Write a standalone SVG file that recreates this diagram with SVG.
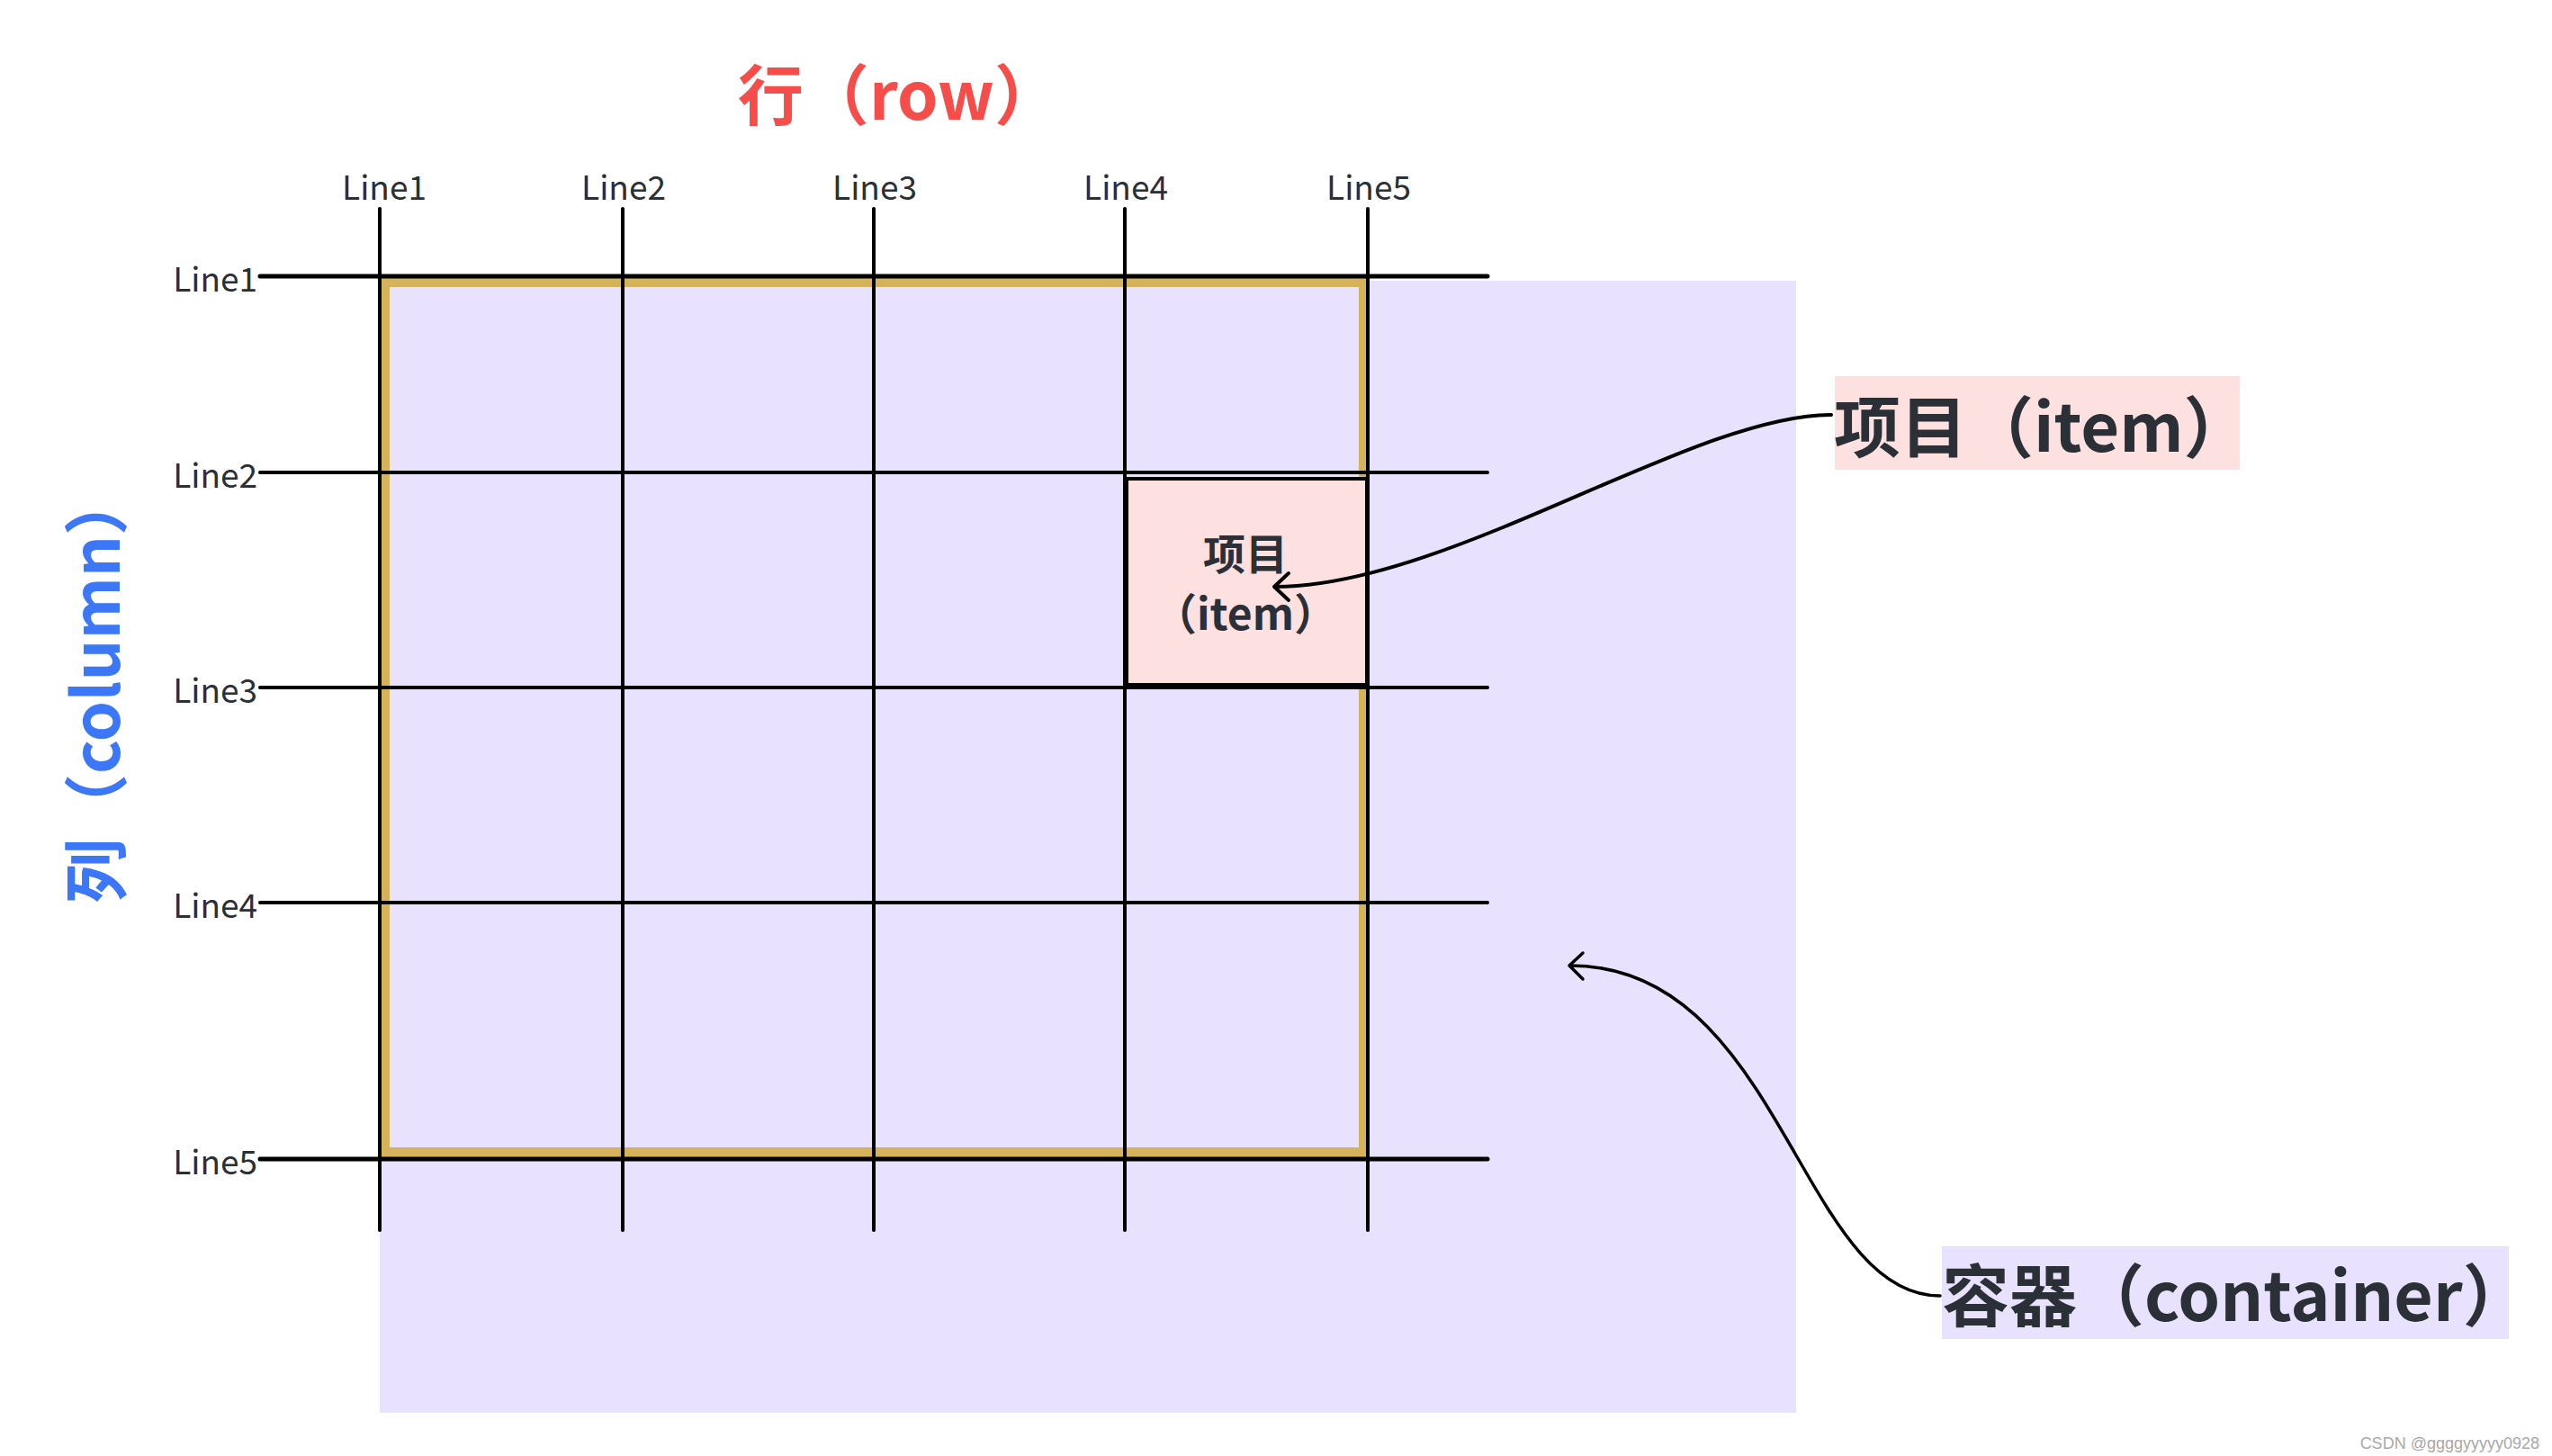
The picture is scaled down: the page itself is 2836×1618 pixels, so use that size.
<svg xmlns="http://www.w3.org/2000/svg" width="2836" height="1618" viewBox="0 0 2836 1618">
<style>
.cjk{font-family:"Noto Sans CJK SC","Noto Sans",sans-serif;}
.lbl{font-family:"Noto Sans CJK SC","Noto Sans",sans-serif;font-size:37px;fill:#2b2f36;}
.big{font-family:"Noto Sans CJK SC","Noto Sans",sans-serif;font-size:74px;font-weight:bold;}
.grid line{stroke:#000;stroke-width:4;stroke-linecap:round;}
.conn path{fill:none;stroke:#000;stroke-width:4;stroke-linecap:round;stroke-linejoin:round;}
</style>
<rect width="2836" height="1618" fill="#fff"/>
<g id="container">
<rect x="422" y="312" width="1574" height="1258" fill="#e9e2fe"/>
</g>
<g id="grid-area">
<rect x="427.5" y="313.5" width="1088" height="967" fill="none" stroke="#d4b35a" stroke-width="11"/>
</g>
<g id="item">
<rect x="1252" y="532" width="267" height="229" fill="#fde1e1" stroke="#000" stroke-width="4"/>
<text class="cjk" x="1384" y="633" font-size="47" font-weight="bold" fill="#2b2f36" text-anchor="middle">项目</text>
<text class="cjk" x="1384" y="700" font-size="48" font-weight="bold" fill="#2b2f36" text-anchor="middle">（item）</text>
</g>
<g id="grid" class="grid">
<line x1="422" y1="232" x2="422" y2="1367"/>
<line x1="692" y1="232" x2="692" y2="1367"/>
<line x1="971" y1="232" x2="971" y2="1367"/>
<line x1="1250" y1="232" x2="1250" y2="1367"/>
<line x1="1520" y1="232" x2="1520" y2="1367"/>
<line x1="289" y1="307" x2="1653" y2="307" style="stroke-width:5"/>
<line x1="289" y1="525" x2="1653" y2="525"/>
<line x1="289" y1="764" x2="1653" y2="764"/>
<line x1="289" y1="1003" x2="1653" y2="1003"/>
<line x1="289" y1="1288" x2="1653" y2="1288" style="stroke-width:5"/>
</g>
<g id="col-labels">
<text class="lbl" x="427" y="222" text-anchor="middle">Line1</text>
<text class="lbl" x="693" y="222" text-anchor="middle">Line2</text>
<text class="lbl" x="972" y="222" text-anchor="middle">Line3</text>
<text class="lbl" x="1251" y="222" text-anchor="middle">Line4</text>
<text class="lbl" x="1521" y="222" text-anchor="middle">Line5</text>
</g>
<g id="row-labels">
<text class="lbl" x="286" y="324" text-anchor="end">Line1</text>
<text class="lbl" x="286" y="542" text-anchor="end">Line2</text>
<text class="lbl" x="286" y="781" text-anchor="end">Line3</text>
<text class="lbl" x="286" y="1020" text-anchor="end">Line4</text>
<text class="lbl" x="286" y="1305" text-anchor="end">Line5</text>
</g>
<g id="title-row">
<text class="big" x="820" y="133" fill="#f54e4a" style="font-size:73px">行（row）</text>
</g>
<g id="title-column">
<text class="big" transform="translate(133,1004) rotate(-90)" x="0" y="0" fill="#3b77f6" style="font-size:72px">列（column）</text>
</g>
<g id="item-label">
<rect x="2039" y="418" width="450" height="104" fill="#fde1e1"/>
<text class="big" x="2038" y="502" fill="#2b2f36">项目（item）</text>
</g>
<g id="container-label">
<rect x="2158" y="1385" width="630" height="103" fill="#e9e2fe"/>
<text class="big" x="2158" y="1468" fill="#2b2f36" style="font-size:75px">容器（container）</text>
</g>
<g id="connectors" class="conn">
<path d="M2035 461 C1880 461 1610 652 1417 652"/>
<path d="M1432 637 L1416 652 L1432 667"/>
<path d="M2156 1440 C2000 1440 1980 1073 1745 1073" style="stroke-width:3.5"/>
<path d="M1759 1059 L1744 1073 L1759 1088" style="stroke-width:3.5"/>
</g>
<text x="2822" y="1610" font-family="Liberation Sans, Arial, sans-serif" font-size="18" fill="#a8a8a8" text-anchor="end">CSDN @ggggyyyyy0928</text>
</svg>
